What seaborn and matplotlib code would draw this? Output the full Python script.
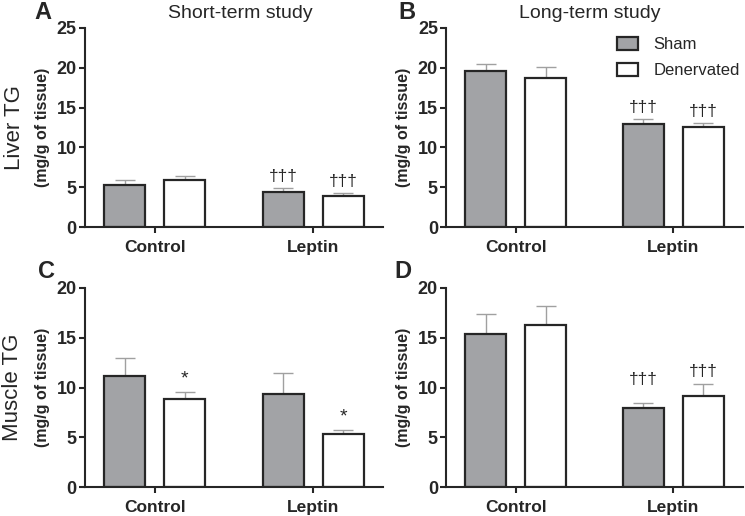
import numpy as np
import pandas as pd
import seaborn as sns
import matplotlib
matplotlib.use("Agg")
import matplotlib.pyplot as plt
from matplotlib.patches import Patch

treatments = ["Control", "Leptin"]
groups = ["Sham", "Denervated"]

# panel A: liver TG, short-term
liver_short_sham = [5.25, 4.45]
liver_short_sham_err = [0.7, 0.42]
liver_short_den = [5.9, 3.85]
liver_short_den_err = [0.5, 0.38]

# panel B: liver TG, long-term
liver_long_sham = [19.55, 12.95]
liver_long_sham_err = [0.9, 0.6]
liver_long_den = [18.7, 12.55]
liver_long_den_err = [1.4, 0.5]

# panel C: muscle TG, short-term
muscle_short_sham = [11.2, 9.3]
muscle_short_sham_err = [1.8, 2.2]
muscle_short_den = [8.8, 5.35]
muscle_short_den_err = [0.72, 0.42]

# panel D: muscle TG, long-term
muscle_long_sham = [15.4, 7.95]
muscle_long_sham_err = [2.0, 0.47]
muscle_long_den = [16.25, 9.1]
muscle_long_den_err = [1.9, 1.25]

# significance marks: (sham Control, sham Leptin, den Control, den Leptin)
marks_a = ["", "†††", "", "†††"]
marks_b = ["", "†††", "", "†††"]
marks_c = ["", "", "*", "*"]
marks_d = ["", "†††", "", "†††"]

sns.set_style("ticks")
plt.rcParams["font.family"] = ["Liberation Sans", "DejaVu Sans"]

DARK = "#262626"
ERR = "#a0a0a0"
palette = {"Sham": "#a2a3a6", "Denervated": "white"}


def draw_panel(ax, sham, sham_err, den, den_err, marks, ymax, mark_offsets):
    df = pd.DataFrame({
        "treatment": treatments * 2,
        "group": ["Sham"] * 2 + ["Denervated"] * 2,
        "tg": sham + den,
    })
    sns.barplot(data=df, x="treatment", y="tg", hue="group", order=treatments,
                hue_order=groups, palette=palette, saturation=1, width=0.76,
                gap=0.32, errorbar=None, edgecolor=DARK, linewidth=1.6,
                legend=False, ax=ax, zorder=2)
    errs = sham_err + den_err
    vals = sham + den
    for p, v, e, m, off in zip(ax.patches, vals, errs, marks, mark_offsets):
        xc = p.get_x() + p.get_width() / 2
        ax.errorbar(xc, v, yerr=[[0], [e]], color=ERR, capsize=7,
                    elinewidth=1, capthick=1, zorder=1)
        if m:
            size = 14 if m == "*" else 12.5
            ax.annotate(m, (xc, v + e), xytext=(0, off), textcoords="offset points",
                        ha="center", va="baseline", fontsize=size, color=DARK)
    ax.set_ylim(0, ymax)
    ax.set_yticks(np.arange(0, ymax + 1, 5))
    ax.set_xlim(-0.44, 1.44)
    ax.set_xlabel("")
    ax.set_ylabel("(mg/g of tissue)", fontsize=11.5, fontweight="bold",
                  labelpad=5, color=DARK)
    sns.despine(ax=ax)
    for s in ["left", "bottom"]:
        ax.spines[s].set_linewidth(1.5)
        ax.spines[s].set_color(DARK)
    ax.tick_params(axis="both", length=4, width=1.5, color=DARK, labelcolor=DARK)
    ax.tick_params(axis="y", labelsize=13, pad=2)
    ax.tick_params(axis="x", labelsize=12.5, pad=5)
    for lab in ax.get_xticklabels() + ax.get_yticklabels():
        lab.set_fontweight("bold")


fig = plt.figure(figsize=(7.45, 5.16), dpi=100)
ax_a = fig.add_axes([0.114, 0.560, 0.400, 0.386])
ax_b = fig.add_axes([0.599, 0.560, 0.398, 0.386])
ax_c = fig.add_axes([0.114, 0.056, 0.400, 0.386])
ax_d = fig.add_axes([0.599, 0.056, 0.398, 0.386])

draw_panel(ax_a, liver_short_sham, liver_short_sham_err, liver_short_den,
           liver_short_den_err, marks_a, 25, [5, 5, 5, 5])
draw_panel(ax_b, liver_long_sham, liver_long_sham_err, liver_long_den,
           liver_long_den_err, marks_b, 25, [5, 5, 5, 5])
draw_panel(ax_c, muscle_short_sham, muscle_short_sham_err, muscle_short_den,
           muscle_short_den_err, marks_c, 20, [6, 6, 6, 6])
draw_panel(ax_d, muscle_long_sham, muscle_long_sham_err, muscle_long_den,
           muscle_long_den_err, marks_d, 20, [14, 14, 6, 6])

fig.text(0.019, 0.753, "Liver TG", rotation=90, ha="center", va="center",
         fontsize=16, color=DARK)
fig.text(0.017, 0.249, "Muscle TG", rotation=90, ha="center", va="center",
         fontsize=16, color=DARK)

for x, y, letter in [(0.058, 0.975, "A"), (0.546, 0.975, "B"),
                     (0.063, 0.473, "C"), (0.541, 0.473, "D")]:
    fig.text(x, y, letter, ha="center", va="center", fontsize=17,
             fontweight="bold", color=DARK)

fig.text(0.322, 0.973, "Short-term study", ha="center", va="center",
         fontsize=14, color=DARK)
fig.text(0.792, 0.973, "Long-term study", ha="center", va="center",
         fontsize=14, color=DARK)

handles = [Patch(facecolor=palette[g], edgecolor=DARK, linewidth=1.6, label=g)
           for g in groups]
ax_b.legend(handles=handles, loc="upper left", bbox_to_anchor=(0.555, 0.99),
            frameon=False, fontsize=12, handlelength=1.25, handleheight=0.85,
            labelspacing=0.65, handletextpad=0.9, borderaxespad=0)

fig.savefig("out.png", dpi=100)
